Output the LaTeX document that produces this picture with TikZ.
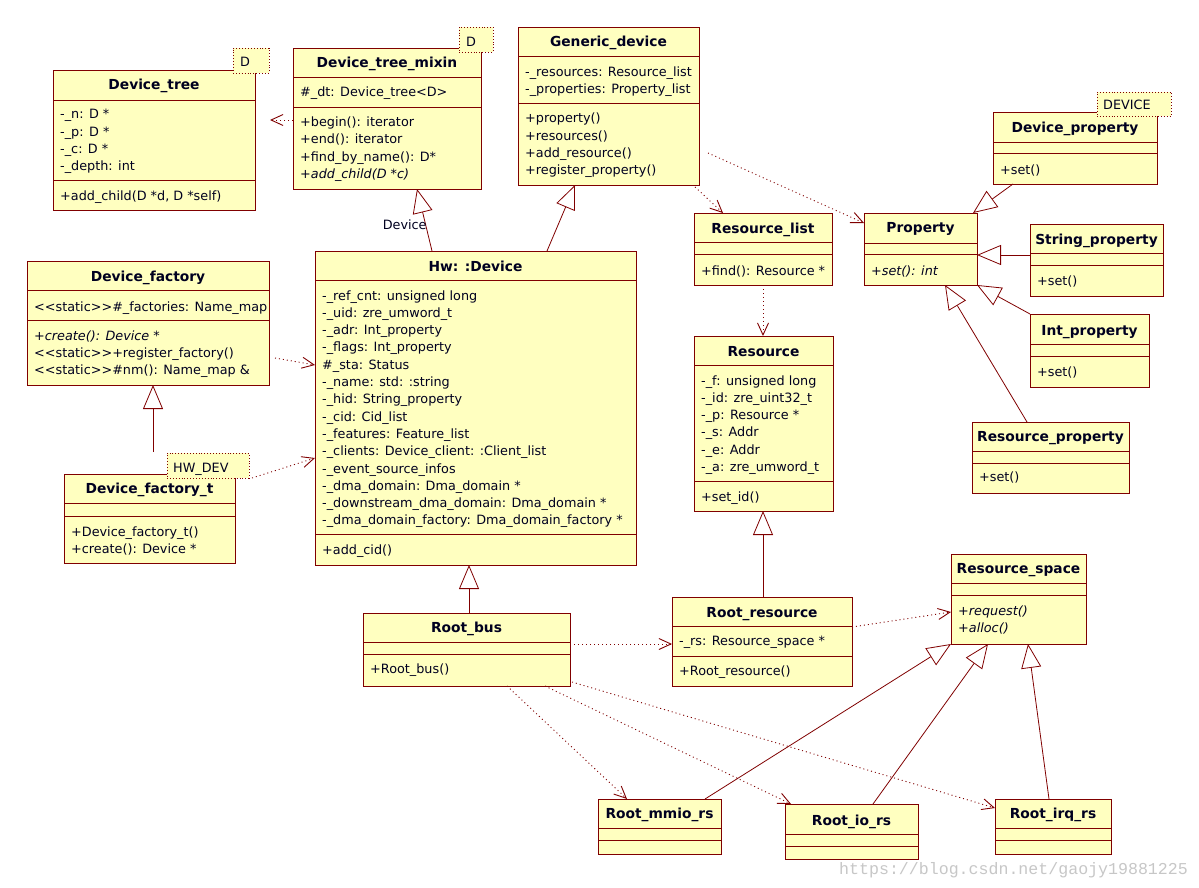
\documentclass[tikz,border=0pt]{standalone}
\usepackage{fontspec}
\setmainfont{DejaVu Sans}
\newfontfamily\wmfont{Liberation Mono}
\usetikzlibrary{arrows.meta,calc}
\definecolor{umlfill}{RGB}{255,255,192}
\definecolor{umlline}{RGB}{128,0,0}
\definecolor{umltext}{RGB}{0,0,32}
\tikzset{
  clsbox/.style={draw=umlline, fill=umlfill, line width=0.9pt, inner sep=0pt, outer sep=0pt, anchor=north west},
  sepline/.style={draw=umlline, line width=0.9pt},
  tmplbox/.style={draw=umlline, fill=umlfill, dotted, line width=0.9pt, inner sep=0pt, outer sep=0pt, anchor=north west},
  item/.style={text=umltext, font=\fontsize{12.8}{16}\selectfont, inner sep=0pt, anchor=base west},
  ctitle/.style={text=umltext, font=\bfseries\fontsize{13.8}{16}\selectfont, inner sep=0pt, anchor=base},
  gen/.style={draw=umlline, line width=0.8pt, -{Triangle[length=24pt,width=20pt,fill=white]}},
  dep/.style={draw=umlline, line width=0.9pt, dash pattern=on 1pt off 3pt, -{Straight Barb[length=12pt,width=11pt]}},
}
% name, x1, y1, x2, y2, sep1, sep2
\newcommand\umlclass[7]{%
  \node[clsbox, minimum width={#4-#2}, minimum height={#5-#3}] (#1) at (#2,#3) {};
  \draw[sepline] (#2,#6) -- (#4,#6) (#2,#7) -- (#4,#7);
}
% name, x1, x2, yc, text
\newcommand\umltitle[5]{\node[ctitle] (#1) at ({(#2+#3)/2},{#4+5}) {#5};}
% name, x, y0, list
\newcommand\umlitems[4]{%
  \foreach \itm [count=\i] in {#4} \node[item] (#1\i) at ({#2},{#3+17.3*(\i-1)+5}) {\itm};
}
% name, x1, y1, x2, y2, text x, text yc, text
\newcommand\umltmpl[8]{%
  \node[tmplbox, minimum width={#4-#2}, minimum height={#5-#3}] (#1) at (#2,#3) {};
  \node[item] (#1-t) at (#6,{#7+5}) {#8};
}
\begin{document}
\begin{tikzpicture}[x=1pt,y=-1pt]
\fill[white] (0,0) rectangle (1199,888);
\useasboundingbox (0,0) rectangle (1199,888);

% Device_tree
\umlclass{dt}{53}{70}{255}{210}{100}{180}
\umltitle{dt-t}{53}{255}{85}{Device\_tree}
\umlitems{dt-a}{60}{114}{{-\_n: D *},{-\_p: D *},{-\_c: D *},{-\_depth: int}}
\umlitems{dt-o}{60}{195}{{+add\_child(D *d, D *self)}}

% Device_tree_mixin
\umlclass{dtm}{293}{48}{481}{189}{77}{107}
\umltitle{dtm-t}{293}{481}{63}{Device\_tree\_mixin}
\umlitems{dtm-a}{300}{92}{{\#\_dt: Device\_tree<D>}}
\umlitems{dtm-o}{300}{121.5}{{+begin(): iterator},{+end(): iterator},{+find\_by\_name(): D*},{\itshape +add\_child(D *c)}}

% Generic_device
\umlclass{gd}{518}{27}{699}{185}{56}{103}
\umltitle{gd-t}{518}{699}{41.5}{Generic\_device}
\umlitems{gd-a}{525}{71.5}{{-\_resources: Resource\_list},{-\_properties: Property\_list}}
\umlitems{gd-o}{525}{118}{{+property()},{+resources()},{+add\_resource()},{+register\_property()}}

% Hw::Device
\umlclass{hw}{315}{251}{636}{565}{280}{534}
\umltitle{hw-t}{315}{636}{266}{Hw: :Device}
\umlitems{hw-a}{322}{295}{{-\_ref\_cnt: unsigned long},{-\_uid: zre\_umword\_t},{-\_adr: Int\_property},{-\_flags: Int\_property},{\#\_sta: Status},{-\_name: std: :string},{-\_hid: String\_property},{-\_cid: Cid\_list},{-\_features: Feature\_list},{-\_clients: Device\_client: :Client\_list},{-\_event\_source\_infos},{-\_dma\_domain: Dma\_domain *},{-\_downstream\_dma\_domain: Dma\_domain *},{-\_dma\_domain\_factory: Dma\_domain\_factory *}}
\umlitems{hw-o}{322}{549}{{+add\_cid()}}

% Device_factory
\umlclass{df}{27}{261}{269}{385}{290}{320}
\umltitle{df-t}{27}{269}{276.5}{Device\_factory}
\umlitems{df-a}{34}{306}{{<{}<static>{}>\#\_factories: Name\_map}}
\umlitems{df-o}{34}{335}{{\itshape +create(): Device *},{<{}<static>{}>+register\_factory()},{<{}<static>{}>\#nm(): Name\_map \&}}

% Device_factory_t
\umlclass{dft}{64}{474}{235}{563}{503}{516}
\umltitle{dft-t}{64}{235}{488.5}{Device\_factory\_t}
\umlitems{dft-o}{71}{531}{{+Device\_factory\_t()},{+create(): Device *}}

% Resource_list
\umlclass{rl}{694}{213}{832}{285}{242}{254}
\umltitle{rl-t}{694}{832}{228}{Resource\_list}
\umlitems{rl-o}{701}{270}{{+find(): Resource *}}

% Resource
\umlclass{res}{694}{336}{833}{511}{365}{481}
\umltitle{res-t}{694}{833}{351}{Resource}
\umlitems{res-a}{701}{380}{{-\_f: unsigned long},{-\_id: zre\_uint32\_t},{-\_p: Resource *},{-\_s: Addr},{-\_e: Addr},{-\_a: zre\_umword\_t}}
\umlitems{res-o}{701}{496}{{+set\_id()}}

% Property
\umlclass{prop}{864}{213}{977}{285}{243}{254}
\umltitle{prop-t}{864}{977}{227.5}{Property}
\umlitems{prop-o}{871}{270}{{\itshape +set(): int}}

% Device_property
\umlclass{dp}{993}{112}{1157}{184}{142}{153}
\umltitle{dp-t}{993}{1157}{127}{Device\_property}
\umlitems{dp-o}{1000}{169.5}{{+set()}}

% String_property
\umlclass{sp}{1030}{224}{1163}{296}{253}{265}
\umltitle{sp-t}{1030}{1163}{239}{String\_property}
\umlitems{sp-o}{1037}{280.5}{{+set()}}

% Int_property
\umlclass{ip}{1030}{314}{1149}{387}{344}{356}
\umltitle{ip-t}{1030}{1149}{330.5}{Int\_property}
\umlitems{ip-o}{1037}{371}{{+set()}}

% Resource_property
\umlclass{rp}{972}{422}{1129}{493}{451}{463}
\umltitle{rp-t}{972}{1129}{436}{Resource\_property}
\umlitems{rp-o}{979}{476.5}{{+set()}}

% Root_bus
\umlclass{rb}{363}{613}{570}{686}{642}{654}
\umltitle{rb-t}{363}{570}{627.5}{Root\_bus}
\umlitems{rb-o}{370}{668.5}{{+Root\_bus()}}

% Root_resource
\umlclass{rr}{672}{597}{852}{686}{626}{656}
\umltitle{rr-t}{672}{852}{612}{Root\_resource}
\umlitems{rr-a}{679}{640.5}{{-\_rs: Resource\_space *}}
\umlitems{rr-o}{679}{670.5}{{+Root\_resource()}}

% Resource_space
\umlclass{rs}{951}{554}{1086}{644}{583}{595}
\umltitle{rs-t}{951}{1086}{568.5}{Resource\_space}
\umlitems{rs-o}{958}{610}{{\itshape +request()},{\itshape +alloc()}}

% Root_mmio_rs, Root_io_rs, Root_irq_rs
\umlclass{mmio}{598}{799}{721}{854}{828}{840}
\umltitle{mmio-t}{598}{721}{813.5}{Root\_mmio\_rs}
\umlclass{io}{785}{804}{918}{859}{834}{846}
\umltitle{io-t}{785}{918}{820}{Root\_io\_rs}
\umlclass{irq}{995}{799}{1111}{854}{828}{840}
\umltitle{irq-t}{995}{1111}{813.5}{Root\_irq\_rs}

% template parameter boxes
\umltmpl{tdt}{233}{48}{269}{73}{240}{62}{D}
\umltmpl{tdtm}{459}{27}{493}{52}{466}{41.5}{D}
\umltmpl{tdft}{167}{453}{249}{478}{173}{467}{HW\_DEV}
\umltmpl{tdp}{1097}{92}{1171}{116}{1103}{104.5}{DEVICE}

% generalizations
\draw[gen] ($(hw.north west)+(117,0)$) -- node[item, anchor=center, pos=0.42, xshift=-21pt] (lbl) {Device} ($(dtm.south west)+(124,0)$);
\draw[gen] ($(hw.north west)+(232,0)$) -- ($(gd.south west)+(57,0)$);
\draw[gen] ($(dft.north west)+(89,-22)$) -- ($(df.south west)+(126,0)$);
\draw[gen] ($(dp.south west)+(20,0)$) -- ($(prop.north east)+(-4,0)$);
\draw[gen] ($(sp.north west)+(0,31)$) -- ($(prop.north east)+(0,42)$);
\draw[gen] (ip.north west) -- (prop.south east);
\draw[gen] ($(rp.north west)+(55,0)$) -- ($(prop.south west)+(81,0)$);
\draw[gen] ($(rb.north west)+(106,0)$) -- ($(hw.south west)+(154,0)$);
\draw[gen] ($(rr.north west)+(91,0)$) -- ($(res.south west)+(69,0)$);
\draw[gen] ($(mmio.north west)+(107,0)$) -- (rs.south west);
\draw[gen] ($(io.north west)+(88,0)$) -- ($(rs.south west)+(37,0)$);
\draw[gen] ($(irq.north west)+(54,0)$) -- ($(rs.south west)+(77,0)$);

% dependencies
\draw[dep] ($(dtm.north west)+(0,72)$) -- ($(dt.north east)+(15,50)$);
\draw[dep] ($(df.north east)+(6,97)$) -- ($(hw.north west)+(0,114)$);
\draw[dep] ($(tdft.south east)+(3,0)$) -- ($(hw.north west)+(0,207)$);
\draw[dep] ($(gd.south east)+(-4,2)$) -- ($(rl.north west)+(29,0)$);
\draw[dep] ($(gd.south east)+(9,-32)$) -- ($(prop.north west)+(0,10)$);
\draw[dep] ($(rl.south west)+(69,0)$) -- ($(res.north west)+(69,0)$);
\draw[dep] ($(rb.north east)+(0,31)$) -- ($(rr.north west)+(0,47)$);
\draw[dep] ($(rr.north east)+(0,30)$) -- ($(rs.north west)+(0,58)$);
\draw[dep] ($(rb.south west)+(144,0)$) -- ($(mmio.north west)+(29,0)$);
\draw[dep] ($(rb.south west)+(182,0)$) -- ($(io.north west)+(6,0)$);
\draw[dep] ($(rb.south east)+(2,-4)$) -- ($(irq.north west)+(0,9)$);

% watermark
\node[inner sep=0pt, anchor=base west, text=black!22, font=\wmfont\fontsize{16.6}{18}\selectfont] (wm) at (839,874) {https://blog.csdn.net/gaojy19881225};
\end{tikzpicture}
\end{document}
